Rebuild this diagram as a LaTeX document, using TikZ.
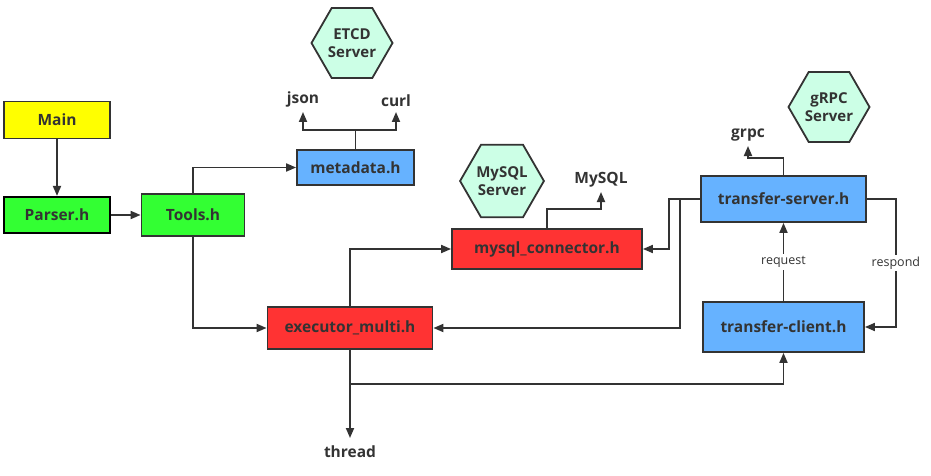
\documentclass[tikz,border=0pt]{standalone}
\usepackage{fontspec}
\setmainfont{Open Sans}
\usetikzlibrary{arrows.meta,shapes.geometric}
\definecolor{ink}{HTML}{333333}
\definecolor{boxyellow}{HTML}{FFFF00}
\definecolor{boxgreen}{HTML}{33FF33}
\definecolor{boxblue}{HTML}{66B2FF}
\definecolor{boxred}{HTML}{FF3333}
\definecolor{mint}{HTML}{CCFFE6}

\begin{document}
\begin{tikzpicture}[x=1pt,y=-1pt,
    box/.style={draw=ink,line width=1.8pt,inner sep=0pt,text=ink,
      font=\bfseries\fontsize{15.5}{18}\selectfont},
    srv/.style={regular polygon,regular polygon sides=6,minimum size=81pt,
      draw=ink,line width=1.8pt,fill=mint,inner sep=0pt,align=center,text=ink,
      font=\bfseries\fontsize{15}{18}\selectfont},
    lib/.style={inner sep=5pt,text=ink,font=\bfseries\fontsize{15.5}{18}\selectfont},
    note/.style={fill=white,inner sep=2pt,text=ink,font=\fontsize{12.5}{14}\selectfont},
    arr/.style={draw=ink,line width=1.8pt,-{Triangle[length=10pt,width=8pt]}}]
  \useasboundingbox (0,0) rectangle (931,476);

  \node[box,fill=boxyellow,minimum width=106pt,minimum height=37pt] (main) at (57,120) {Main};
  \node[box,fill=boxgreen,draw=black,line width=2.2pt,minimum width=106pt,minimum height=36pt] (parser) at (57,215) {Parser.h};
  \node[box,fill=boxgreen,minimum width=103pt,minimum height=42pt] (tools) at (193,215) {Tools.h};
  \node[box,fill=boxblue,minimum width=117pt,minimum height=35pt] (meta) at (355.5,167.5) {metadata.h};
  \node[box,fill=boxred,minimum width=190pt,minimum height=40pt] (myconn) at (547,249) {mysql\_connector.h};
  \node[box,fill=boxred,minimum width=165pt,minimum height=42pt] (exec) at (350,328) {executor\_multi.h};
  \node[box,fill=boxblue,minimum width=165pt,minimum height=46pt] (tserver) at (783.5,199) {transfer-server.h};
  \node[box,fill=boxblue,minimum width=161pt,minimum height=50pt] (tclient) at (783.5,327) {transfer-client.h};

  \node[srv] (etcd) at (352,43) {ETCD\\Server};
  \node[srv] (mysqlsrv) at (502,181) {MySQL\\Server};
  \node[srv] (grpcsrv) at (829,107) {gRPC\\Server};

  \node[lib,anchor=south] (json) at (303,112) {json};
  \node[lib,anchor=south] (curl) at (396,112) {curl};
  \node[lib,anchor=south] (mysql) at (601,192) {MySQL};
  \node[lib,anchor=south] (grpc) at (748,146) {grpc};
  \node[lib,anchor=north,inner ysep=8pt] (thread) at (350,438) {thread};

  \draw[arr] (main) -- (parser);
  \draw[arr] (parser) -- (tools);
  \draw[arr] (tools.north) |- (meta.west);
  \draw[arr] (meta.north) -- ++(0,-19) -| (json.south);
  \draw[arr] (meta.north) -- ++(0,-19) -| (curl.south);
  \draw[arr] (tools.south) |- (exec.west);
  \draw[arr] (exec.north) |- (myconn.west);
  \draw[arr] (myconn.north) -- ++(0,-19) -| (mysql.south);
  \draw[arr] (tserver.west) -- ++(-31,0) |- (myconn.east);
  \draw[arr] (tserver.west) -- ++(-20,0) |- (exec.east);
  \draw[arr] (exec.south) -- ++(0,34) -| (tclient.south);
  \draw[arr] (exec.south) -- (thread.north);
  \draw[arr] (tserver.north) -- ++(0,-17) -| (grpc.south);
  \draw[arr] (tclient.north) -- node[note] {request} (tserver.south);
  \draw[arr] (tserver.east) -- ++(29,0) |- node[note,pos=0.25] {respond} (tclient.east);
\end{tikzpicture}
\end{document}
